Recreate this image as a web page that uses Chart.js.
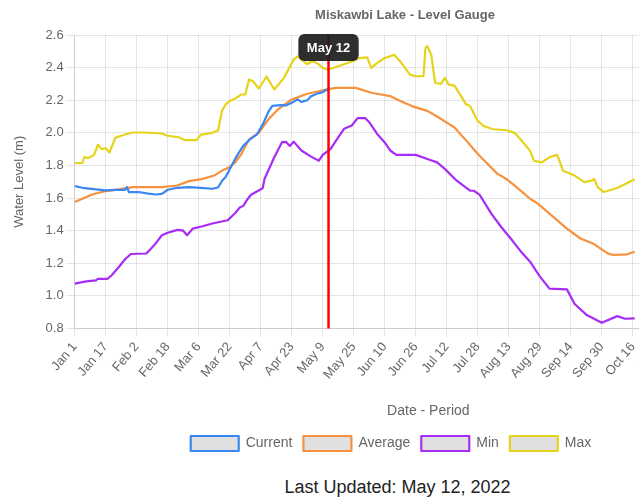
<!DOCTYPE html>
<html>
<head>
<meta charset="utf-8">
<script src="https://cdn.jsdelivr.net/npm/chart.js@4.4.1/dist/chart.umd.min.js"></script>
<style>
html, body { margin: 0; padding: 0; background: #fff; overflow: hidden; width: 639px; height: 497px; }
#wrap { position: relative; width: 810px; height: 497px; }
#c { display: block; }
#updated { position: absolute; left: 0; top: 477px; width: 795px; text-align: center;
  font: 18px "Liberation Sans", Arial, Helvetica, sans-serif; line-height: 20px; color: #222; }
</style>
</head>
<body>
<div id="wrap">
  <canvas id="c" width="810" height="466"></canvas>
  <div id="updated">Last Updated: May 12, 2022</div>
</div>
<script>
// ---- Data (day offsets from Jan 1, water level in m) ----
const chartTitle = 'Miskawbi Lake - Level Gauge';
const seriesNames = ['Current', 'Average', 'Min', 'Max'];
const xTickLabels = ['Jan 1','Jan 17','Feb 2','Feb 18','Mar 6','Mar 22','Apr 7','Apr 23','May 9','May 25',
  'Jun 10','Jun 26','Jul 12','Jul 28','Aug 13','Aug 29','Sep 14','Sep 30','Oct 16','Nov 1','Nov 17','Dec 3','Dec 19'];
const markerDay = 131;
const markerLabel = 'May 12';

const currentDays = [0,4,11,16,21,26,27,28,33,38,42,45,48,53,59,65,71,74,76,78,81,84,87,90,94,97,100,102,106,109,112,115,117,120,122,125,128,131];
const currentVals = [1.673,1.663,1.653,1.647,1.650,1.650,1.667,1.637,1.637,1.627,1.622,1.626,1.651,1.663,1.667,1.663,1.657,1.665,1.705,1.730,1.800,1.865,1.920,1.955,1.990,2.050,2.130,2.165,2.170,2.168,2.185,2.205,2.190,2.200,2.225,2.240,2.250,2.270];

const averageDays = [0,4,9,16,23,30,45,53,59,66,72,76,80,83,86,90,95,100,105,112,120,126,131,135,145,153,158,163,168,174,182,187,192,196,203,208,213,218,223,228,235,239,245,254,261,268,275,278,285,289];
const averageVals = [1.576,1.596,1.622,1.643,1.653,1.667,1.667,1.677,1.704,1.718,1.738,1.768,1.790,1.820,1.870,1.960,2.000,2.083,2.144,2.205,2.240,2.255,2.268,2.276,2.276,2.246,2.235,2.225,2.195,2.164,2.135,2.100,2.063,2.033,1.940,1.870,1.810,1.750,1.715,1.667,1.596,1.566,1.505,1.413,1.352,1.318,1.261,1.251,1.255,1.271];

const minDays = [0,6,11,12,17,19,23,26,29,37,41,45,48,53,56,58,61,66,71,79,83,85,87,89,91,94,97,98,103,107,109,111,113,117,122,126,128,132,136,139,143,146,150,152,156,160,163,166,176,182,187,191,197,204,206,209,215,220,225,230,235,240,245,254,258,264,272,280,284,289];
const minVals = [1.075,1.089,1.095,1.105,1.105,1.125,1.180,1.225,1.257,1.260,1.310,1.372,1.387,1.405,1.400,1.372,1.413,1.427,1.444,1.464,1.510,1.540,1.552,1.590,1.620,1.640,1.660,1.718,1.850,1.943,1.945,1.920,1.946,1.892,1.854,1.829,1.865,1.900,1.972,2.025,2.045,2.090,2.090,2.065,1.995,1.941,1.890,1.865,1.865,1.840,1.819,1.779,1.708,1.645,1.645,1.620,1.505,1.424,1.352,1.276,1.210,1.120,1.045,1.040,0.950,0.885,0.835,0.876,0.860,0.862];

const maxDays = [0,4,5,7,10,12,14,16,18,19,21,24,26,30,36,45,48,54,57,63,65,71,74,76,78,80,83,86,88,90,92,95,99,103,108,113,115,118,120,123,126,128,131,136,143,147,151,153,156,160,165,168,173,176,180,181,182,184,186,189,191,193,196,202,204,208,211,216,223,227,230,235,237,241,245,249,252,258,263,267,268,270,273,280,289];
const maxVals = [1.815,1.815,1.852,1.845,1.865,1.927,1.900,1.906,1.880,1.910,1.970,1.982,1.990,2.002,2.002,1.996,1.982,1.972,1.955,1.955,1.988,2.000,2.016,2.134,2.175,2.195,2.211,2.235,2.235,2.327,2.317,2.272,2.345,2.266,2.337,2.449,2.469,2.440,2.422,2.440,2.420,2.398,2.388,2.408,2.438,2.459,2.463,2.398,2.428,2.459,2.478,2.438,2.357,2.347,2.347,2.520,2.532,2.479,2.307,2.300,2.337,2.296,2.290,2.175,2.164,2.073,2.042,2.022,2.016,2.000,1.961,1.890,1.829,1.819,1.850,1.865,1.768,1.738,1.698,1.708,1.718,1.665,1.637,1.662,1.715];

const seriesColors = ['#3a87f2', '#f7913d', '#a72cf5', '#e6d31b'];

// ---- Chart ----
const FONT = '"Liberation Sans", Arial, Helvetica, sans-serif';
Chart.defaults.font.family = FONT;
Chart.defaults.color = '#666';

const toPoints = (days, vals) => days.map((d, i) => ({ x: d, y: vals[i] }));
const seriesData = [
  toPoints(currentDays, currentVals),
  toPoints(averageDays, averageVals),
  toPoints(minDays, minVals),
  toPoints(maxDays, maxVals)
];

const titlePlugin = {
  id: 'gaugeTitle',
  afterDraw(chart) {
    const ctx = chart.ctx;
    ctx.save();
    ctx.font = 'bold 13px ' + FONT;
    ctx.fillStyle = '#666';
    ctx.textAlign = 'center';
    ctx.textBaseline = 'middle';
    ctx.fillText(chartTitle, 405, 15);
    ctx.restore();
  }
};

const markerPlugin = {
  id: 'todayMarker',
  afterDatasetsDraw(chart) {
    const { ctx, chartArea, scales } = chart;
    const px = scales.x.getPixelForValue(markerDay);
    ctx.save();
    ctx.strokeStyle = '#ff0000';
    ctx.lineWidth = 2.5;
    ctx.beginPath();
    ctx.moveTo(px, chartArea.top);
    ctx.lineTo(px, chartArea.bottom);
    ctx.stroke();
    ctx.font = 'bold 13px ' + FONT;
    const tw = ctx.measureText(markerLabel).width;
    const w = tw + 17, h = 27;
    const bx = px - w / 2, by = chartArea.top - 1;
    ctx.fillStyle = 'rgba(28,28,28,0.92)';
    ctx.beginPath();
    if (ctx.roundRect) { ctx.roundRect(bx, by, w, h, 6); } else { ctx.rect(bx, by, w, h); }
    ctx.fill();
    ctx.fillStyle = '#fff';
    ctx.textAlign = 'center';
    ctx.textBaseline = 'middle';
    ctx.fillText(markerLabel, px, by + h / 2 + 1);
    ctx.restore();
  }
};

new Chart(document.getElementById('c'), {
  type: 'line',
  data: {
    datasets: seriesNames.map((name, i) => ({
      label: name,
      data: seriesData[i],
      borderColor: seriesColors[i],
      backgroundColor: 'rgba(0,0,0,0.12)',
      borderWidth: 2.2,
      pointRadius: 0,
      pointHoverRadius: 0,
      fill: false,
      tension: 0,
      borderJoinStyle: 'round'
    }))
  },
  options: {
    responsive: false,
    animation: false,
    devicePixelRatio: 1,
    layout: { padding: { top: 35, left: 0, right: 28, bottom: 5 } },
    plugins: {
      title: { display: false },
      tooltip: { enabled: false },
      legend: {
        position: 'bottom',
        labels: { boxWidth: 48, boxHeight: 15, padding: 11, color: '#666', font: { size: 14, family: FONT } }
      }
    },
    scales: {
      x: {
        type: 'linear',
        min: 0,
        max: 365,
        grid: { color: 'rgba(0,0,0,0.1)', tickLength: 8 },
        ticks: {
          stepSize: 16, includeBounds: false, autoSkip: false,
          minRotation: 50, maxRotation: 50, padding: 3,
          color: '#666', font: { size: 13, family: FONT },
          callback: (v) => { const l = xTickLabels[Math.round(v / 16)]; return l === undefined ? '' : l; }
        },
        title: { display: true, text: 'Date - Period', color: '#666', font: { size: 14, family: FONT }, padding: { top: 18, bottom: 5 } }
      },
      y: {
        min: 0.8,
        max: 2.6,
        grid: { color: 'rgba(0,0,0,0.1)', tickLength: 8 },
        ticks: { stepSize: 0.2, padding: 3, color: '#666', font: { size: 13, family: FONT }, callback: (v) => Number(v).toFixed(1) },
        title: { display: true, text: 'Water Level (m)', color: '#666', font: { size: 13, family: FONT }, padding: { top: 12, bottom: 15 } }
      }
    }
  },
  plugins: [titlePlugin, markerPlugin]
});
</script>
</body>
</html>
